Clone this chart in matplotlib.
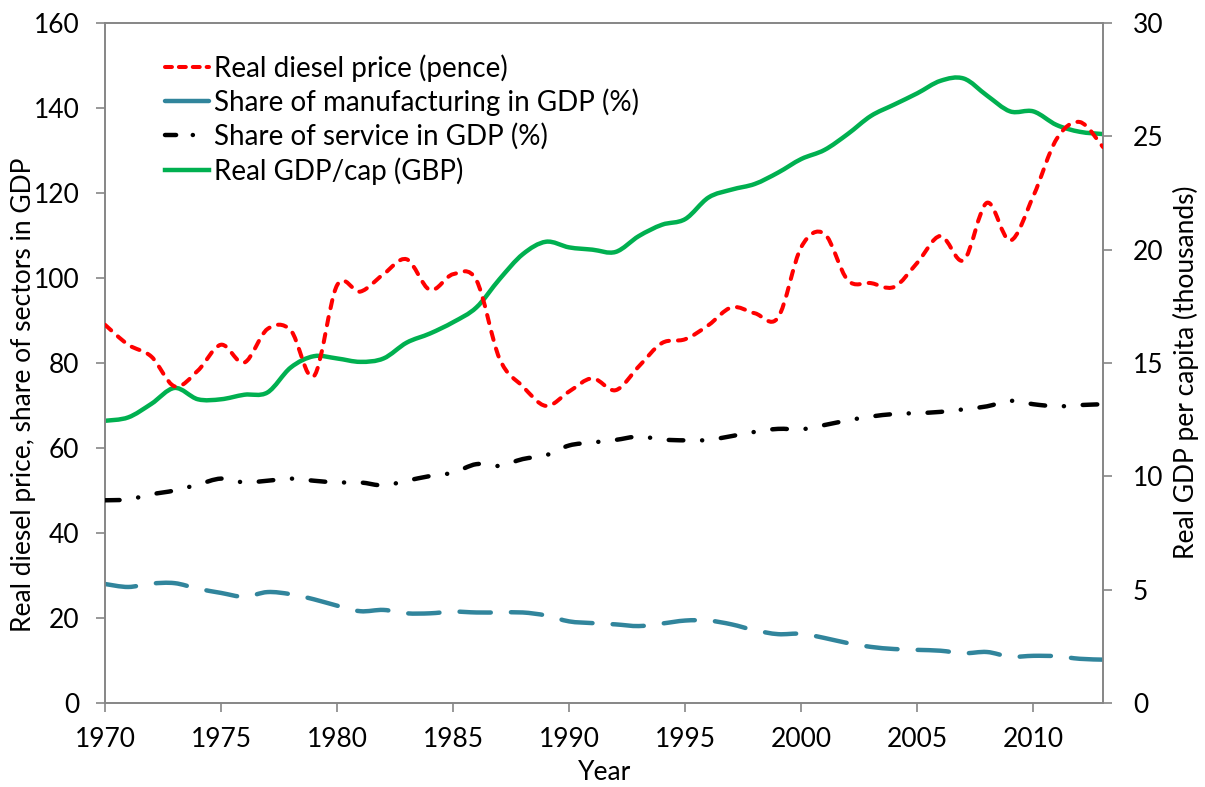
import numpy as np
import matplotlib
matplotlib.use("Agg")
import matplotlib.pyplot as plt
from matplotlib.path import Path
from matplotlib.patches import PathPatch
from matplotlib.lines import Line2D

plt.rcParams['font.family'] = ['Lato', 'DejaVu Sans']
plt.rcParams['lines.scale_dashes'] = False

# ---------------- data ----------------
years = list(range(1970, 2014))

diesel_price = [89, 84.3, 81.5, 74.5, 78.2, 84.3, 80.1, 88, 87.7, 76.9,
                98.3, 96.8, 100.9, 104.4, 97.2, 100.9, 99.5, 81, 74.5, 69.9,
                73.3, 76.4, 73.6, 79.2, 84.7, 85.6, 88.9, 93.1, 91.7, 90.7,
                107.3, 110.4, 99.5, 98.8, 97.9, 103.6, 109.9, 104.2, 117.7, 108.8,
                119.3, 132.7, 136.7, 130.8]

manufacturing_share = [28, 27.3, 28.1, 28.2, 26.9, 25.9, 25, 26.1, 25.6, 24.4,
                       22.9, 21.6, 21.9, 21.1, 21.1, 21.5, 21.3, 21.3, 21.3, 20.6,
                       19.2, 18.8, 18.5, 18.1, 18.7, 19.4, 19.4, 18.5, 17.1, 16.2,
                       16.3, 15.3, 14.1, 13.2, 12.7, 12.5, 12.3, 11.7, 12, 10.9,
                       11.1, 11, 10.4, 10.2]

service_share = [47.7, 47.9, 49.1, 50, 51.4, 52.8, 51.9, 52.3, 52.8, 52.3,
                 51.9, 51.9, 51.2, 52.3, 53.4, 54.2, 56.2, 55.8, 57.4, 58.3,
                 60.6, 61.3, 61.9, 62.7, 62, 61.8, 61.9, 62.8, 63.8, 64.5,
                 64.4, 65.4, 66.5, 67.4, 68, 68.2, 68.5, 69.1, 69.8, 71.1,
                 70.3, 69.8, 70.1, 70.3]

gdp_per_cap = [12.45, 12.6, 13.2, 13.9, 13.4, 13.4, 13.6, 13.7, 14.8, 15.3,
               15.2, 15.05, 15.2, 15.9, 16.3, 16.8, 17.45, 18.7, 19.8, 20.35,
               20.1, 20.0, 19.9, 20.6, 21.1, 21.35, 22.3, 22.65, 22.9, 23.4,
               24.0, 24.4, 25.1, 25.9, 26.4, 26.9, 27.45, 27.55, 26.8, 26.1,
               26.1, 25.5, 25.2, 25.1]

labels = ["Real diesel price (pence)",
          "Share of manufacturing in GDP (%)",
          "Share of service in GDP (%)",
          "Real GDP/cap (GBP)"]

left_ticks = [0, 20, 40, 60, 80, 100, 120, 140, 160]
right_ticks = [0, 5, 10, 15, 20, 25, 30]
x_ticks = [1970, 1975, 1980, 1985, 1990, 1995, 2000, 2005, 2010]

# ---------------- styles ----------------
RED = '#FF0000'
BLUE = '#31859C'
BLACK = '#000000'
GREEN = '#00B050'
GRAY = '#868686'

red_style = dict(color=RED, lw=2.9, ls=(0, (6.0, 6.5)))
blue_style = dict(color=BLUE, lw=3.2, ls=(0, (22.5, 14.5)))
black_style = dict(color=BLACK, lw=3.2, ls=(0, (10.5, 13.5, 0.1, 13.5)))
green_style = dict(color=GREEN, lw=3.2, ls='-')


def smooth_patch(ax, x, y, style, z):
    """Excel-like smoothed line: cubic Bezier through every data point."""
    P = np.column_stack([np.asarray(x, float), np.asarray(y, float)])
    n = len(P)
    verts = [P[0]]
    codes = [Path.MOVETO]
    t = 1.0 / 6.0
    for i in range(n - 1):
        p0 = P[i - 1] if i > 0 else P[i]
        p3 = P[i + 2] if i + 2 < n else P[i + 1]
        c1 = P[i] + (P[i + 1] - p0) * t
        c2 = P[i + 1] - (p3 - P[i]) * t
        verts += [c1, c2, P[i + 1]]
        codes += [Path.CURVE4] * 3
    patch = PathPatch(Path(verts, codes), fill=False, edgecolor=style['color'],
                      linewidth=style['lw'], linestyle=style['ls'],
                      capstyle='round', joinstyle='round',
                      transform=ax.transData, zorder=z)
    ax.add_patch(patch)
    return patch


W, H = 1205, 787
fig = plt.figure(figsize=(W / 100, H / 100), dpi=100)
L, R, B, T = 105, 1103, 703, 23
ax = fig.add_axes([L / W, 1 - B / H, (R - L) / W, (B - T) / H])
ax2 = ax.twinx()

# left-scale lines drawn above the right-scale line
ax.set_zorder(ax2.get_zorder() + 1)
ax.patch.set_visible(False)

smooth_patch(ax2, years, gdp_per_cap, green_style, 2)
smooth_patch(ax, years, manufacturing_share, blue_style, 2)
smooth_patch(ax, years, service_share, black_style, 3)
smooth_patch(ax, years, diesel_price, red_style, 4)

ax.set_xlim(1970, 2013)
ax.set_ylim(0, 160)
ax2.set_ylim(0, 30)
ax.set_xticks(x_ticks)
ax.set_yticks(left_ticks)
ax2.set_yticks(right_ticks)

for a in (ax, ax2):
    for s in a.spines.values():
        s.set_color(GRAY)
        s.set_linewidth(1.2)

FS = 19
ax.tick_params(axis='both', direction='out', length=6.5, width=1.2, color=GRAY,
               labelsize=FS, labelcolor='black')
ax.tick_params(axis='y', pad=12)
ax.tick_params(axis='x', pad=11)
ax2.tick_params(axis='y', direction='out', length=6.5, width=1.2, color=GRAY,
                labelsize=FS, labelcolor='black', pad=15)

fig.text(24 / W, 1 - 395 / H, "Real diesel price, share of sectors in GDP",
         rotation=90, ha='center', va='center', fontsize=FS)
fig.text(1186 / W, 1 - 372 / H, "Real GDP per capita (thousands)",
         rotation=90, ha='center', va='center', fontsize=FS)
fig.text(605 / W, 1 - 772 / H, "Year", ha='center', va='center', fontsize=FS)

handles = [Line2D([], [], color=RED, lw=2.9, ls=(0, (5, 5)), dash_capstyle='round'),
           Line2D([], [], color=BLUE, lw=3.2, ls='-', solid_capstyle='round'),
           Line2D([], [], color=BLACK, lw=3.2, ls=(0, (8, 12, 0.1, 12)), dash_capstyle='round'),
           Line2D([], [], color=GREEN, lw=3.2, ls='-')]
leg = ax.legend(handles, labels, loc='upper left',
                bbox_to_anchor=(165 / W, 1 - 54 / H), bbox_transform=fig.transFigure,
                frameon=False, fontsize=20, handlelength=1.6, handletextpad=0.15,
                labelspacing=0.25, borderpad=0, borderaxespad=0)

fig.savefig("out.png", dpi=100, facecolor='white')
